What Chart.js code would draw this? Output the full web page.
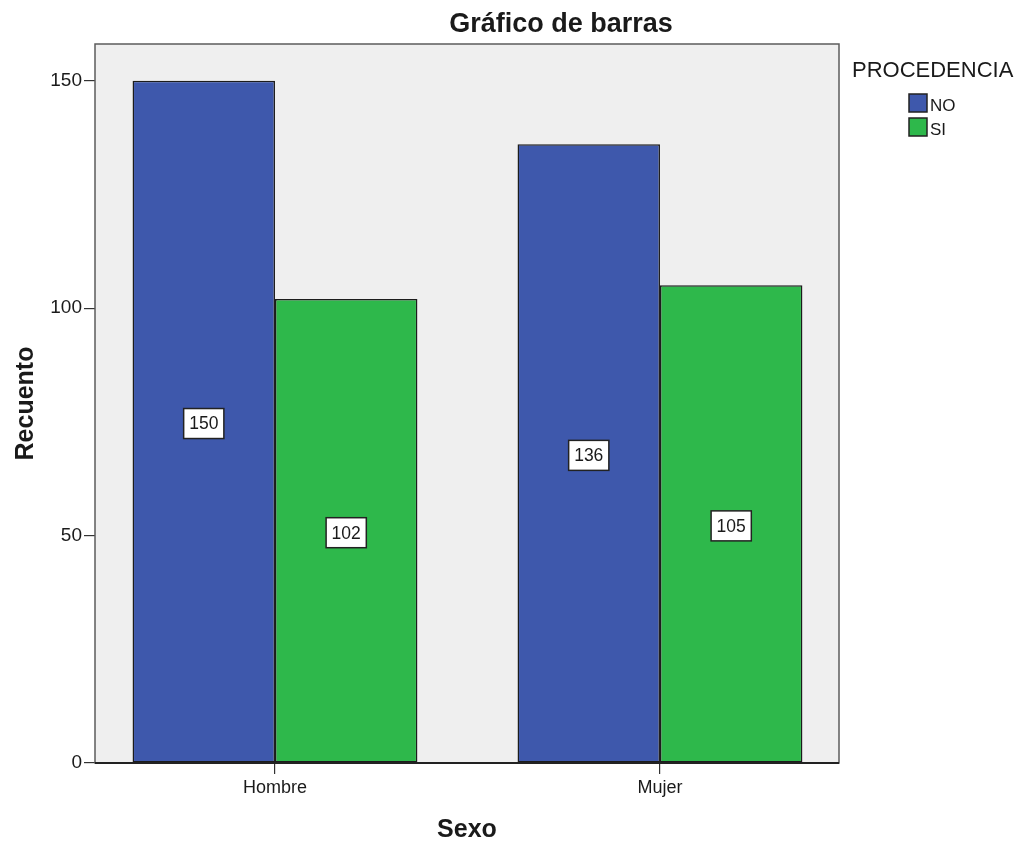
<!DOCTYPE html>
<html lang="es">
<head>
<meta charset="utf-8">
<title>Gráfico de barras</title>
<script src="https://cdn.jsdelivr.net/npm/chart.js@4.4.1/dist/chart.umd.min.js"></script>
<style>
  html, body { margin: 0; padding: 0; background: #ffffff; }
  #wrap { width: 1023px; height: 843px; }
</style>
</head>
<body>
<div id="wrap"><canvas id="chart" width="1023" height="843"></canvas></div>
<script>
// Recuento por sexo y procedencia
const categories = ['Hombre', 'Mujer'];
const seriesNames = ['NO', 'SI'];
const noValues = [150, 136];
const siValues = [102, 105];
const yTickValues = [0, 50, 100, 150];
const seriesColors = ['#3e58ac', '#2eb84b'];

const chartTitle = 'Gráfico de barras';
const xTitle = 'Sexo';
const yTitle = 'Recuento';
const legendTitle = 'PROCEDENCIA';

const FONT = '"Liberation Sans", Arial, sans-serif';
const TEXT = '#1a1a1a';

const seriesValues = [noValues, siValues];

// Fondo gris del área de trazado
const plotBackground = {
  id: 'plotBackground',
  beforeDatasetsDraw(chart) {
    const { ctx, chartArea: a } = chart;
    ctx.save();
    ctx.fillStyle = '#efefef';
    ctx.fillRect(a.left, a.top, a.right - a.left, a.bottom - a.top);
    ctx.restore();
  }
};

// Marco, títulos, etiquetas de valor y leyenda
const decorations = {
  id: 'decorations',
  afterDatasetsDraw(chart) {
    const { ctx, chartArea: a } = chart;
    ctx.save();

    // etiquetas de valor en el centro de cada barra
    ctx.font = '17.5px ' + FONT;
    ctx.textAlign = 'center';
    ctx.textBaseline = 'middle';
    chart.data.datasets.forEach((ds, di) => {
      chart.getDatasetMeta(di).data.forEach((bar, i) => {
        const txt = String(ds.data[i].y);
        const cx = bar.x;
        const cy = (bar.y + bar.base) / 2 + 2;
        const w = ctx.measureText(txt).width + 11;
        const h = 30;
        ctx.fillStyle = '#ffffff';
        ctx.fillRect(cx - w / 2, cy - h / 2, w, h);
        ctx.lineWidth = 1.5;
        ctx.strokeStyle = '#222222';
        ctx.strokeRect(cx - w / 2, cy - h / 2, w, h);
        ctx.fillStyle = TEXT;
        ctx.fillText(txt, cx, cy + 1);
      });
    });

    // marco del área de trazado
    ctx.lineWidth = 1.5;
    ctx.strokeStyle = '#5c5c5c';
    ctx.strokeRect(a.left, a.top, a.right - a.left, a.bottom - a.top);
    ctx.beginPath();
    ctx.lineWidth = 2;
    ctx.strokeStyle = '#222222';
    ctx.moveTo(a.left, a.bottom);
    ctx.lineTo(a.right, a.bottom);
    ctx.stroke();

    // título
    ctx.fillStyle = TEXT;
    ctx.textAlign = 'center';
    ctx.textBaseline = 'alphabetic';
    ctx.font = 'bold 27px ' + FONT;
    ctx.fillText(chartTitle, 561, 32);

    // título del eje X
    ctx.font = 'bold 25px ' + FONT;
    ctx.fillText(xTitle, (a.left + a.right) / 2, 837);

    // título del eje Y
    ctx.save();
    ctx.translate(32.5, (a.top + a.bottom) / 2 + 0);
    ctx.rotate(-Math.PI / 2);
    ctx.fillText(yTitle, 0, 0);
    ctx.restore();

    // leyenda
    ctx.textAlign = 'left';
    ctx.font = '22px ' + FONT;
    ctx.fillText(legendTitle, 852, 77);
    ctx.font = '17px ' + FONT;
    chart.data.datasets.forEach((ds, di) => {
      const y = 94 + di * 24;
      ctx.fillStyle = ds.backgroundColor;
      ctx.fillRect(909, y, 18, 18);
      ctx.lineWidth = 1.5;
      ctx.strokeStyle = '#222222';
      ctx.strokeRect(909, y, 18, 18);
      ctx.fillStyle = TEXT;
      ctx.fillText(ds.label, 930, y + 16.5);
    });

    ctx.restore();
  }
};

const datasets = seriesNames.map((name, si) => ({
  label: name,
  data: categories.map((c, i) => ({ x: i, y: seriesValues[si][i] })),
  backgroundColor: seriesColors[si],
  borderColor: '#1c1c1c',
  borderWidth: 1.5,
  borderSkipped: false,
  categoryPercentage: 0.74,
  barPercentage: 1.0
}));

new Chart(document.getElementById('chart'), {
  type: 'bar',
  data: { datasets },
  plugins: [plotBackground, decorations],
  options: {
    responsive: false,
    animation: false,
    devicePixelRatio: 1,
    layout: { padding: { left: 0, top: 44, right: 184, bottom: 0 } },
    plugins: {
      legend: { display: false },
      title: { display: false },
      tooltip: { enabled: false }
    },
    scales: {
      x: {
        type: 'linear',
        offset: false,
        min: -0.4675,
        max: 1.465,
        afterBuildTicks: s => { s.ticks = categories.map((c, i) => ({ value: i })); },
        afterFit: s => { s.height = 80; },
        border: { display: false },
        grid: {
          offset: false,
          drawOnChartArea: false,
          drawTicks: true,
          tickLength: 11,
          color: '#333333',
          lineWidth: 1.2
        },
        ticks: {
          autoSkip: false,
          maxRotation: 0,
          padding: 3,
          color: TEXT,
          font: { family: FONT, size: 18 },
          callback: v => categories[v] !== undefined ? categories[v] : ''
        }
      },
      y: {
        min: 0,
        max: 158.06,
        afterBuildTicks: s => { s.ticks = yTickValues.map(v => ({ value: v })); },
        afterFit: s => { s.width = 95; },
        border: { display: false },
        grid: {
          drawOnChartArea: false,
          drawTicks: true,
          tickLength: 11,
          color: '#333333',
          lineWidth: 1.2
        },
        ticks: {
          padding: 2,
          color: TEXT,
          font: { family: FONT, size: 19 }
        }
      }
    }
  }
});
</script>
</body>
</html>
